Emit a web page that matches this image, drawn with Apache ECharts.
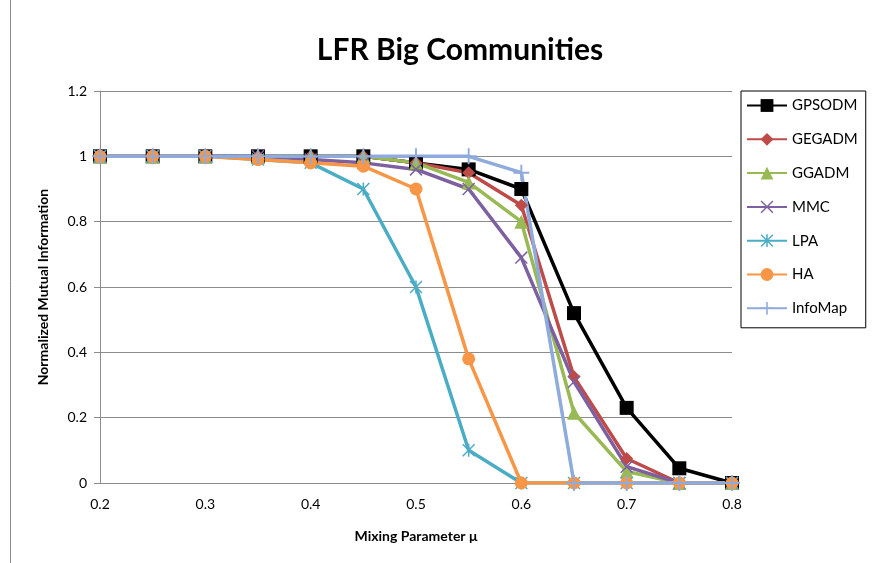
<!DOCTYPE html>
<html>
<head>
<meta charset="utf-8">
<script src="https://cdn.jsdelivr.net/npm/echarts@6/dist/echarts.min.js"></script>
<style>html,body{margin:0;padding:0;background:#fff;}#c{width:890px;height:563px;}</style>
</head>
<body>
<div id="c"></div>
<script>
const xValues = [0.2, 0.25, 0.3, 0.35, 0.4, 0.45, 0.5, 0.55, 0.6, 0.65, 0.7, 0.75, 0.8];
const GPSODM  = [1, 1, 1, 1, 1, 1, 0.98, 0.96, 0.90, 0.52, 0.23, 0.045, 0];
const GEGADM  = [1, 1, 1, 1, 1, 1, 0.98, 0.95, 0.85, 0.325, 0.075, 0, 0];
const GGADM   = [1, 1, 1, 1, 1, 1, 0.98, 0.92, 0.80, 0.215, 0.035, 0, 0];
const MMC     = [1, 1, 1, 1, 0.99, 0.98, 0.96, 0.90, 0.69, 0.31, 0.05, 0, 0];
const LPA     = [1, 1, 1, 0.99, 0.98, 0.90, 0.60, 0.10, 0, 0, 0, 0, 0];
const HA      = [1, 1, 1, 0.99, 0.98, 0.97, 0.90, 0.38, 0, 0, 0, 0, 0];
const InfoMap = [1, 1, 1, 1, 1, 1, 1, 1, 0.95, 0, 0, 0, 0];
const xTicks = [0.2, 0.3, 0.4, 0.5, 0.6, 0.7, 0.8];
const yTicks = [0, 0.2, 0.4, 0.6, 0.8, 1, 1.2];

const FONT = 'Lato, "Open Sans", sans-serif';
const plusPath = 'path://M4.4,0 L5.6,0 L5.6,4.4 L10,4.4 L10,5.6 L5.6,5.6 L5.6,10 L4.4,10 L4.4,5.6 L0,5.6 L0,4.4 L4.4,4.4 Z';
const xPath = 'path://M0,0.8 L0.8,0 L10,9.2 L9.2,10 Z M0,9.2 L9.2,0 L10,0.8 L0.8,10 Z';
const starPath = 'path://M0,0.8 L0.8,0 L10,9.2 L9.2,10 Z M0,9.2 L9.2,0 L10,0.8 L0.8,10 Z M4.4,0 L5.6,0 L5.6,10 L4.4,10 Z';

function mk(name, vals, color, symbol, size) {
  return {
    name: name,
    type: 'line',
    data: xValues.map((x, i) => [x, vals[i]]),
    symbol: symbol,
    symbolSize: size,
    showAllSymbol: true,
    lineStyle: { color: color, width: 3.5 },
    itemStyle: { color: color },
    emphasis: { disabled: true },
    animation: false
  };
}

const series = [
  mk('GPSODM', GPSODM, '#000000', 'rect', 14),
  mk('GEGADM', GEGADM, '#BE4B48', 'diamond', 13),
  mk('GGADM', GGADM, '#98B954', 'triangle', 14),
  mk('MMC', MMC, '#7D60A0', xPath, 13),
  mk('LPA', LPA, '#4BACC6', starPath, 13),
  mk('HA', HA, '#F79646', 'circle', 13),
  mk('InfoMap', InfoMap, '#8FAADC', plusPath, 16)
];

const chart = echarts.init(document.getElementById('c'), null, { renderer: 'canvas' });
chart.setOption({
  backgroundColor: '#fff',
  animation: false,
  title: {
    text: 'LFR Big Communities',
    left: 455, top: 30, textAlign: 'center',
    textStyle: { fontFamily: FONT, fontSize: 30, fontWeight: 'bold', color: '#000' }
  },
  legend: {
    orient: 'vertical',
    left: 741, top: 91,
    width: 127,
    padding: [7, 8, 12, 5],
    itemGap: 18.8,
    itemWidth: 40, itemHeight: 16,
    borderColor: '#000', borderWidth: 1,
    textStyle: { fontFamily: FONT, fontSize: 15, color: '#000' },
    data: ['GPSODM', 'GEGADM', 'GGADM', 'MMC', 'LPA', 'HA', 'InfoMap']
  },
  grid: { left: 100, right: 158, top: 91, bottom: 80, containLabel: false },
  xAxis: {
    type: 'value', min: 0.2, max: 0.8, interval: 0.1,
    name: 'Mixing Parameter μ', nameLocation: 'middle', nameGap: 46,
    nameTextStyle: { fontFamily: FONT, fontSize: 14, fontWeight: 'bold', color: '#000' },
    axisLine: { show: true, onZero: false, lineStyle: { color: '#8c8c8c', width: 1 } },
    axisTick: { show: false },
    splitLine: { show: false },
    axisLabel: {
      fontFamily: FONT, fontSize: 14, color: '#000', margin: 14,
      formatter: v => { const t = xTicks.find(k => Math.abs(k - v) < 1e-9); return t === undefined ? '' : String(t); }
    }
  },
  yAxis: {
    type: 'value', min: 0, max: 1.2, interval: 0.2,
    name: 'Normalized Mutual Information', nameLocation: 'middle', nameGap: 50,
    nameTextStyle: { fontFamily: FONT, fontSize: 14, fontWeight: 'bold', color: '#000' },
    axisLine: { show: true, lineStyle: { color: '#8c8c8c', width: 1 } },
    axisTick: { show: true, inside: false, length: 6, lineStyle: { color: '#8c8c8c' } },
    splitLine: { show: true, lineStyle: { color: '#8c8c8c', width: 1 } },
    axisLabel: {
      fontFamily: FONT, fontSize: 14, color: '#000', margin: 13,
      formatter: v => { const t = yTicks.find(k => Math.abs(k - v) < 1e-9); return t === undefined ? '' : String(t); }
    }
  },
  graphic: [{
    type: 'line', shape: { x1: 10.5, y1: 0, x2: 10.5, y2: 563 },
    style: { stroke: '#8c8c8c', lineWidth: 1 }, silent: true
  }],
  series: series
});
</script>
</body>
</html>
